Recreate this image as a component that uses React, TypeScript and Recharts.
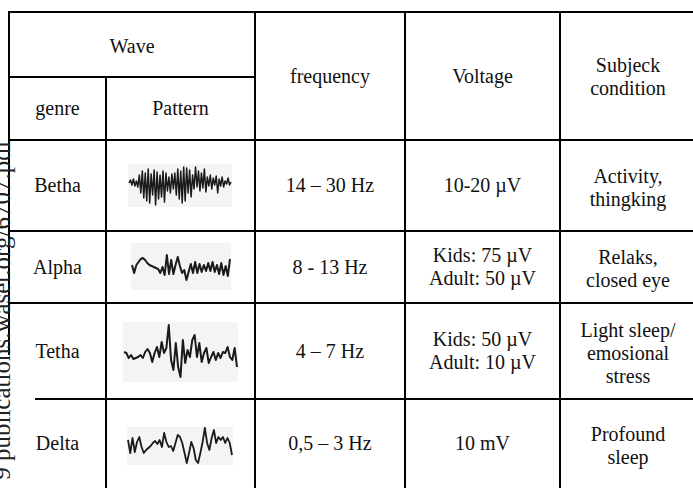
import React from "react";
import { LineChart, Line, XAxis, YAxis } from "recharts";

// ---- table content ----
const genres = ["Betha", "Alpha", "Tetha", "Delta"];
const frequencies = ["14 \u2013 30 Hz", "8 - 13 Hz", "4 \u2013 7 Hz", "0,5 \u2013 3 Hz"];
const voltages = [
  ["10-20 \u00B5V"],
  ["Kids: 75 \u00B5V", "Adult: 50 \u00B5V"],
  ["Kids: 50 \u00B5V", "Adult: 10 \u00B5V"],
  ["10 mV"],
];
const conditions = [
  ["Activity,", "thingking"],
  ["Relaks,", "closed eye"],
  ["Light sleep/", "emosional", "stress"],
  ["Profound", "sleep"],
];
const headerWave = "Wave";
const headerGenre = "genre";
const headerPattern = "Pattern";
const headerFrequency = "frequency";
const headerVoltage = "Voltage";
const headerCondition = ["Subjeck", "condition"];
const watermark = "9 publications.waset.org/6707.pdf";

// ---- wave pattern samples (amplitude, up = positive) ----
const bethaWave = [
  0, 3, -2, 4, -3, 2, -4,
  8, -10, 12, -15, 10, -18, 14, -20, 9, -12, 13, -22, 11, -16, 8, -14, 12, -19, 10, -8, 6, -10, 9, -6,
  10, -12, 14, -16, 12, -20, 16, -18, 15, -10, 13, -14, 8, -6, 16, -4, 12, -8, 10, -5, 14, -9,
  6, -3, 8, -6, 5, -2, 7, -10, 4, -3, 6, -4, 2, -1, 5, -2, 1,
];
const alphaWave = [
  3, -5, 3, 6, 9, 10, 8, 5, 3, 2, 1, 0, -1, -5, 1, -7, 13, -6, 8, -6, 3, 11, 2, -5, -2, -12, -4, 4,
  -5, 6, -5, 4, -4, 3, -3, 5, -3, 6, -4, 3, -6, 5, -7, 2, -8, 9,
];
const tethaWave = [
  0, -1, -6, -3, -7, -6, -5, -3, -6, 0, 3, -1, -10, -1, 5, -5, 10, -1, 4, 27, -8, -18, 9, -15, -25,
  12, -11, 2, -5, 12, 17, -5, 9, -10, -1, 4, -11, -5, 0, -8, -1, -6, 0, -1, 5, -5, -8, 4, -15,
];
const deltaWave = [
  5, -8, 7, -7, 3, 8, -2, -8, -5, -3, -1, 2, 4, 1, 5, -2, 12, 3, -2, -1, -6, 2, 10, 8, 2, -8, -18,
  -8, 3, -3, -15, -18, -8, 3, 17, 2, -5, 7, 15, 2, 8, 5, 8, 2, 7, 2, -10,
];
const waves = [bethaWave, alphaWave, tethaWave, deltaWave];

// ---- layout (pixels) ----
const FONT = "'Liberation Serif', 'Times New Roman', serif";
const rowTops = [140, 231, 303, 399];
const rowBottoms = [231, 303, 399, 488];
const colX = [9, 106, 255, 405, 560, 696];
const waveBoxes = [
  { x: 128, y: 164, w: 104, h: 43, lo: -24, hi: 19, sw: 1.5 },
  { x: 131, y: 243, w: 100, h: 47, lo: -22, hi: 25, sw: 2 },
  { x: 123, y: 322, w: 115, h: 60, lo: -30, hi: 30, sw: 2 },
  { x: 127, y: 427, w: 106, h: 38, lo: -20, hi: 18, sw: 1.8 },
];

const HLine = ({ x1, x2, y }: { x1: number; x2: number; y: number }) => (
  <div style={{ position: "absolute", left: x1, top: y - 1, width: x2 - x1, height: 2, background: "#000" }} />
);
const VLine = ({ x, y1, y2 }: { x: number; y1: number; y2: number }) => (
  <div style={{ position: "absolute", left: x - 1, top: y1, width: 2, height: y2 - y1, background: "#000" }} />
);
const Cell = ({ x1, x2, y1, y2, lines, dy = 0 }: { x1: number; x2: number; y1: number; y2: number; lines: string[]; dy?: number }) => (
  <div
    style={{
      position: "absolute",
      left: x1,
      top: y1 + dy,
      width: x2 - x1,
      height: y2 - y1,
      display: "flex",
      flexDirection: "column",
      alignItems: "center",
      justifyContent: "center",
      fontFamily: FONT,
      fontSize: 20,
      lineHeight: "23px",
      color: "#111",
      textAlign: "center",
      whiteSpace: "nowrap",
    }}
  >
    {lines.map((l, i) => (
      <div key={i}>{l}</div>
    ))}
  </div>
);

const WavePlot = ({ values, box }: { values: number[]; box: typeof waveBoxes[number] }) => {
  const data = values.map((v, i) => ({ i, v }));
  return (
    <div style={{ position: "absolute", left: box.x, top: box.y, width: box.w, height: box.h, background: "#f4f4f4" }}>
      <LineChart width={box.w} height={box.h} data={data} margin={{ top: 0, right: 1, bottom: 0, left: 1 }}>
        <XAxis dataKey="i" type="number" domain={[0, values.length - 1]} hide />
        <YAxis type="number" domain={[box.lo, box.hi]} hide allowDataOverflow />
        <Line
          dataKey="v"
          type="linear"
          stroke="#1a1a1a"
          strokeWidth={box.sw}
          strokeLinejoin="round"
          dot={false}
          isAnimationActive={false}
        />
      </LineChart>
    </div>
  );
};

export default function App() {
  return (
    <div
      style={{
        position: "absolute",
        left: 0,
        top: 0,
        width: 693,
        height: 488,
        overflow: "hidden",
        background: "#fff",
      }}
    >
      {/* header text */}
      <Cell x1={colX[0]} x2={colX[2]} y1={12} y2={77} lines={[headerWave]} dy={2} />
      <Cell x1={colX[0]} x2={colX[1]} y1={77} y2={140} lines={[headerGenre]} />
      <Cell x1={colX[1]} x2={colX[2]} y1={77} y2={140} lines={[headerPattern]} />
      <Cell x1={colX[2]} x2={colX[3]} y1={12} y2={140} lines={[headerFrequency]} />
      <Cell x1={colX[3]} x2={colX[4]} y1={12} y2={140} lines={[headerVoltage]} />
      <Cell x1={colX[4]} x2={colX[5]} y1={12} y2={140} lines={headerCondition} dy={1} />

      {/* body rows */}
      {genres.map((g, r) => (
        <React.Fragment key={g}>
          <Cell x1={colX[0]} x2={colX[1]} y1={rowTops[r]} y2={rowBottoms[r]} lines={[g]} />
          <Cell x1={colX[2]} x2={colX[3]} y1={rowTops[r]} y2={rowBottoms[r]} lines={[frequencies[r]]} />
          <Cell x1={colX[3]} x2={colX[4]} y1={rowTops[r]} y2={rowBottoms[r]} lines={voltages[r]} />
          <Cell x1={colX[4]} x2={colX[5]} y1={rowTops[r]} y2={rowBottoms[r]} lines={conditions[r]} dy={2} />
          <WavePlot values={waves[r]} box={waveBoxes[r]} />
        </React.Fragment>
      ))}

      {/* grid lines */}
      <HLine x1={8} x2={700} y={12} />
      <HLine x1={8} x2={256} y={77} />
      <HLine x1={8} x2={700} y={140} />
      <HLine x1={8} x2={700} y={231} />
      <HLine x1={8} x2={700} y={303} />
      <HLine x1={35} x2={700} y={399} />
      <VLine x={9} y1={11} y2={355} />
      <VLine x={106} y1={77} y2={488} />
      <VLine x={255} y1={11} y2={488} />
      <VLine x={405} y1={11} y2={488} />
      <VLine x={560} y1={11} y2={488} />

      {/* rotated watermark at the left edge */}
      <svg width={693} height={488} style={{ position: "absolute", left: 0, top: 0, pointerEvents: "none" }}>
        <text
          transform="translate(10,140) rotate(-90)"
          textAnchor="end"
          fontFamily={FONT}
          fontSize={25}
          fill="#222"
        >
          {watermark}
        </text>
      </svg>
    </div>
  );
}
